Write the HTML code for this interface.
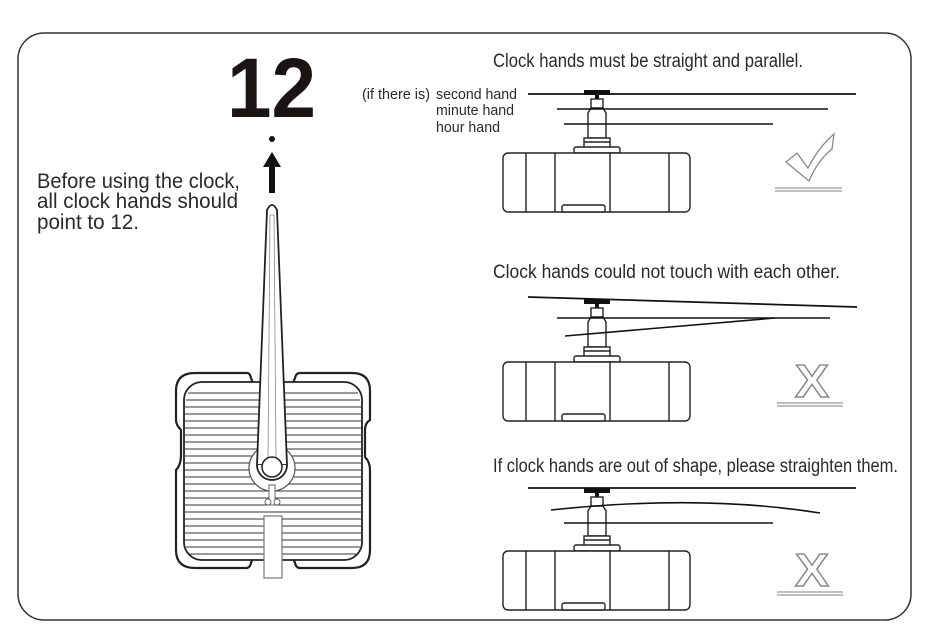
<!DOCTYPE html>
<html><head><meta charset="utf-8"><style>
html,body{margin:0;padding:0;background:#fff}
svg{display:block}
text{font-family:"Liberation Sans",sans-serif;fill:#2a2a2a}
</style></head><body>
<svg width="930" height="641" viewBox="0 0 930 641" xmlns="http://www.w3.org/2000/svg">
<defs>
<g id="mv" fill="#fff" stroke="#222" stroke-width="1.4">
  <rect x="584" y="-4" width="26" height="5" fill="#111" stroke="none"/>
  <rect x="595" y="0" width="4" height="5" fill="#111" stroke="none"/>
  <rect x="591" y="5" width="12" height="14"/>
  <path d="M588 19 L591 14 L603 14 L606 19 L606 44 L588 44 Z"/>
  <rect x="584" y="44" width="26" height="10"/>
  <line x1="584" y1="48" x2="610" y2="48"/>
  <rect x="574" y="53" width="46" height="6" rx="2"/>
  <rect x="503" y="59" width="187" height="59" rx="5"/>
  <line x1="526" y1="59" x2="526" y2="118"/>
  <line x1="555" y1="59" x2="555" y2="118"/>
  <line x1="610" y1="59" x2="610" y2="118"/>
  <line x1="669" y1="59" x2="669" y2="118"/>
  <rect x="562" y="111" width="43" height="7" rx="2"/>
</g>
<g id="xx">
  <text x="795" y="0" font-size="46" font-weight="bold" textLength="34" lengthAdjust="spacingAndGlyphs" stroke="#888" stroke-width="1.4" style="fill:#fff">X</text>
  <line x1="777" y1="6" x2="843" y2="6" stroke="#999" stroke-width="1.2"/>
  <line x1="777" y1="9" x2="843" y2="9" stroke="#999" stroke-width="1.2"/>
</g>
</defs>
<rect x="18" y="33" width="893" height="587" rx="26" fill="none" stroke="#333" stroke-width="1.5"/>

<text x="227" y="117" font-size="84" font-weight="bold" textLength="89" lengthAdjust="spacingAndGlyphs" style="fill:#1a1414">12</text>
<circle cx="272" cy="139" r="3" fill="#111"/>
<polygon points="272,152 263,167 281,167" fill="#111"/>
<rect x="269" y="166" width="6" height="27" fill="#111"/>

<text x="37" y="188" font-size="21" textLength="203" lengthAdjust="spacingAndGlyphs">Before using the clock,</text>
<text x="37" y="208" font-size="21" textLength="201" lengthAdjust="spacingAndGlyphs">all clock hands should</text>
<text x="37" y="229" font-size="21" textLength="102" lengthAdjust="spacingAndGlyphs">point to 12.</text>

<path d="M195 373 L247 373 Q250 373 251 378 L253 383 L293 383 L295 378 Q296 373 300 373 L352 373 Q370 373 370 391 L370 420 Q365 423 365 430 L365 457 Q370 462 370 470 L370 550 Q370 568 352 568 L300 568 Q296 568 295 563 L293 558 L253 558 L251 563 Q250 568 246 568 L195 568 Q176 568 176 550 L176 470 Q181 465 181 455 L181 430 Q176 425 176 420 L176 391 Q176 373 195 373 Z" fill="#fff" stroke="#222" stroke-width="2.2"/>
<rect x="184" y="382" width="178" height="178" rx="18" fill="#fff" stroke="#222" stroke-width="1.8"/>
<g stroke="#333" stroke-width="1">
<line x1="188" y1="393" x2="358" y2="393"/><line x1="186" y1="400" x2="360" y2="400"/>
<line x1="185" y1="407" x2="361" y2="407"/><line x1="185" y1="414" x2="361" y2="414"/>
<line x1="185" y1="421" x2="361" y2="421"/><line x1="185" y1="428" x2="361" y2="428"/>
<line x1="185" y1="435" x2="361" y2="435"/><line x1="185" y1="442" x2="361" y2="442"/>
<line x1="185" y1="449" x2="361" y2="449"/><line x1="185" y1="456" x2="361" y2="456"/>
<line x1="185" y1="463" x2="361" y2="463"/><line x1="185" y1="470" x2="361" y2="470"/>
<line x1="185" y1="477" x2="361" y2="477"/><line x1="185" y1="484" x2="361" y2="484"/>
<line x1="185" y1="491" x2="361" y2="491"/><line x1="185" y1="498" x2="361" y2="498"/>
<line x1="185" y1="505" x2="361" y2="505"/><line x1="185" y1="512" x2="361" y2="512"/>
<line x1="185" y1="519" x2="361" y2="519"/><line x1="185" y1="526" x2="361" y2="526"/>
<line x1="185" y1="533" x2="361" y2="533"/><line x1="185" y1="540" x2="361" y2="540"/>
<line x1="186" y1="547" x2="360" y2="547"/><line x1="189" y1="554" x2="357" y2="554"/>
</g>
<circle cx="272" cy="468" r="23" fill="#fff" stroke="#555" stroke-width="1.2"/>
<path d="M267 210 Q272 200 277 210 L287 465 L257 465 Z" fill="#fff" stroke="#222" stroke-width="1.8"/>
<path d="M270 215 L274 215 L276 460 L268 460 Z" fill="none" stroke="#888" stroke-width="0.8"/>
<path d="M257 465 A15 15 0 0 0 287 465" fill="#fff" stroke="#222" stroke-width="1.8"/>
<circle cx="272" cy="467" r="10" fill="#fff" stroke="#222" stroke-width="1.5"/>
<rect x="269" y="485" width="6" height="20" fill="#fff" stroke="#666" stroke-width="1"/>
<circle cx="268" cy="502" r="3" fill="#fff" stroke="#666" stroke-width="1"/>
<circle cx="277" cy="502" r="3" fill="#fff" stroke="#666" stroke-width="1"/>
<rect x="264" y="516" width="18" height="62" fill="#fff" stroke="#777" stroke-width="1.2"/>

<text x="493" y="67" font-size="19" textLength="310" lengthAdjust="spacingAndGlyphs">Clock hands must be straight and parallel.</text>
<text x="362" y="99" font-size="15" textLength="68" lengthAdjust="spacingAndGlyphs">(if there is)</text>
<text x="436" y="99" font-size="15" textLength="81" lengthAdjust="spacingAndGlyphs">second hand</text>
<text x="436" y="115" font-size="15" textLength="78" lengthAdjust="spacingAndGlyphs">minute hand</text>
<text x="436" y="132" font-size="15" textLength="64" lengthAdjust="spacingAndGlyphs">hour hand</text>
<use href="#mv" transform="translate(0,94)"/>
<line x1="528" y1="94" x2="856" y2="94" stroke="#111" stroke-width="1.8"/>
<line x1="557" y1="109" x2="828" y2="109" stroke="#111" stroke-width="1.6"/>
<line x1="564" y1="124" x2="773" y2="124" stroke="#111" stroke-width="1.6"/>
<path d="M786 162 L797 153 L808 168 Q818 148 834 134 L832 149 Q818 160 809 181 Z" fill="#fff" stroke="#888" stroke-width="1.3"/>
<line x1="775" y1="188" x2="842" y2="188" stroke="#999" stroke-width="1.2"/>
<line x1="775" y1="191" x2="842" y2="191" stroke="#999" stroke-width="1.2"/>

<text x="493" y="278" font-size="19" textLength="347" lengthAdjust="spacingAndGlyphs">Clock hands could not touch with each other.</text>
<use href="#mv" transform="translate(0,303)"/>
<line x1="528" y1="297" x2="857" y2="307" stroke="#111" stroke-width="1.8"/>
<line x1="557" y1="318" x2="830" y2="318" stroke="#111" stroke-width="1.6"/>
<line x1="565" y1="336" x2="775" y2="318" stroke="#111" stroke-width="1.6"/>
<use href="#xx" transform="translate(0,397)"/>

<text x="493" y="472" font-size="19" textLength="405" lengthAdjust="spacingAndGlyphs">If clock hands are out of shape, please straighten them.</text>
<use href="#mv" transform="translate(0,492)"/>
<line x1="528" y1="488" x2="856" y2="488" stroke="#111" stroke-width="1.8"/>
<path d="M551 510 Q700 494 820 513" fill="none" stroke="#111" stroke-width="1.6"/>
<line x1="564" y1="523" x2="773" y2="523" stroke="#111" stroke-width="1.6"/>
<use href="#xx" transform="translate(0,586)"/>
</svg>
</body></html>
